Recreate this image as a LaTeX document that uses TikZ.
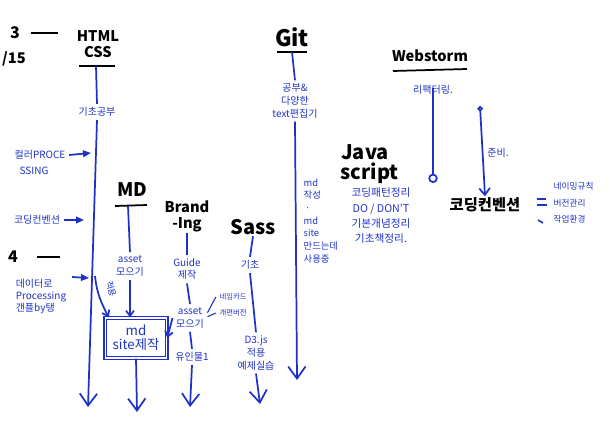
\documentclass[tikz,border=0pt]{standalone}
\usepackage{fontspec}
\setmainfont{Noto Sans CJK KR}
\usetikzlibrary{arrows.meta}
\definecolor{pen}{RGB}{30,50,200}

\tikzset{every picture/.style={line width=0.75pt}}
\tikzset{
  title/.style={inner sep=0.75pt, align=center, font=\fontsize{11}{12}\selectfont\bfseries},
  note/.style={inner sep=0.75pt, outer sep=2pt, align=center, text=pen, font=\fontsize{7.5}{9.5}\selectfont},
  tiny/.style={note, font=\fontsize{5.5}{7}\selectfont},
  ink/.style={draw=black, line width=1.3pt},
  pline/.style={draw=pen, line width=1.3pt},
  bigv/.style={-{Straight Barb[length=9pt,width=13pt]}},
  smallv/.style={-{Straight Barb[length=4pt,width=6pt]}},
  tip/.style={-{Triangle[length=6pt,width=5pt]}},
}

\begin{document}
\begin{tikzpicture}[x=0.75pt,y=0.75pt,yscale=-1,xscale=1]
\useasboundingbox (0,0) rectangle (610,421);

% Text Node
\node[title, font=\fontsize{12}{13}\selectfont\bfseries] (three) at (15,33) {3};
% Text Node
\node[title] (fifteen) at (14,59) {/15};
% Text Node
\node[title, font=\fontsize{12}{13}\selectfont\bfseries] (four) at (13,257) {4};
\coordinate (dash3) at (58,33);
\coordinate (dash4) at (60,257);
%Straight Lines
\draw[ink] ([xshift=7]three.east) -- (dash3);
\draw[ink] ([xshift=13]four.east) -- (dash4);

%HTML CSS
\node[title] (html) at (98,44) {HTML\\CSS};
\coordinate (htmlul0) at (79,66);
\coordinate (htmlul1) at (115,66);
\coordinate (htmlstem) at (96,66);
\draw[ink] (htmlul0) -- (htmlul1);
\node[note] (gicho) at (97,112) {기초공부};
\draw[pline] (htmlstem) -- (gicho.north);
\coordinate (htmlend) at (88,407);
\draw[pline, bigv] (gicho.south) -- (htmlend);

%left side
\node[note] (color) at (40,155) {컬러PROCE};
\node[note] (color2) at (34,171) {SSING};
\coordinate (hin1) at (91,153);
\draw[pline, tip] (color.east) -- (hin1);
\node[note] (conv1) at (37,220) {코딩컨벤션};
\coordinate (hin2) at (84,220);
\draw[pline, tip] (conv1.east) -- (hin2);
\node[note, align=left, font=\fontsize{7.5}{9}\selectfont] (data) at (41,297) {데이터로\\Processing\\갠플by탱};
\coordinate (data0) at (72,277);
\coordinate (hin3) at (89,278);
\draw[pline, tip] (data0) -- (hin3);

%MD
\node[title, font=\fontsize{14}{15}\selectfont\bfseries] (md) at (132,190) {MD};
\coordinate (mdul0) at (115,206);
\coordinate (mdul1) at (147,205);
\coordinate (mdstem) at (128,206);
\draw[ink] (mdul0) -- (mdul1);
\node[note] (asset1) at (130,266) {asset\\모으기};
\draw[pline] (mdstem) -- (asset1.north);
\node[draw=pen, double=white, double distance=1.2pt, line width=0.9pt, text=pen,
      minimum width=46pt, minimum height=30pt, inner sep=1pt, align=center,
      font=\fontsize{10}{10.5}\selectfont] (mdsite) at (136,338) {md\\site제작};
\draw[pline, smallv] (asset1.south) -- (mdsite.north -| asset1.south);
\coordinate (mdend) at (137,412);
\draw[pline, bigv] (mdsite.south) -- (mdend);

%apply curve
\coordinate (apply0) at (95,276);
\draw[pline, smallv] (apply0) .. controls (97,295) and (102,304) .. ([xshift=3]mdsite.north west);
\node[note, rotate=-75, font=\fontsize{6.5}{7}\selectfont] (apply) at (111,289) {적용};

%Brand-ing
\node[title] (brand) at (187,216) {Brand\\-Ing};
\node[note] (guide) at (187,269) {Guide\\제작};
\draw[pline] (brand.south) -- (guide.north);
\node[note] (asset2) at (190,318) {asset\\모으기};
\draw[pline] (guide.south) -- (asset2.north);
\node[note] (yuin) at (192,357) {유인물1};
\draw[pline] (asset2.south) -- (yuin.north);
\coordinate (brandend) at (190,407);
\draw[pline, bigv] (yuin.south) -- (brandend);
\draw[pline, smallv] (asset2.west) -- (mdsite.east);
\node[tiny] (namecard) at (233,297) {네임카드};
\node[tiny] (renew) at (233,313) {개편버전};
\draw[draw=pen, line width=0.8pt] ([yshift=-4]asset2.east) -- (namecard.west);
\draw[draw=pen, line width=0.8pt] ([yshift=-1]asset2.east) -- (renew.west);

%Sass
\node[title, font=\fontsize{15}{16}\selectfont\bfseries] (sass) at (253,227) {Sass};
\node[note] (sassgicho) at (250,265) {기초};
\draw[pline] (sass.south) -- (sassgicho.north);
\node[note] (dthree) at (256,353) {D3.js\\적용\\예제실습};
\draw[pline] (sassgicho.south) -- (dthree.north);
\coordinate (sassend) at (260,404);
\draw[pline, bigv] (dthree.south) -- (sassend);

%Git
\node[title, font=\fontsize{17}{18}\selectfont\bfseries] (git) at (292,37) {Git};
\coordinate (gitul0) at (277,52);
\coordinate (gitul1) at (307,52);
\coordinate (gitstem) at (292,52);
\draw[ink] (gitul0) -- (gitul1);
\node[note] (gitnote) at (295,101) {공부\&\\다양한\\text편집기};
\draw[pline] (gitstem) -- (gitnote.north);
\coordinate (gitend) at (297,380);
\draw[pline, bigv] (gitnote.south) -- (gitend);
\node[note, align=left, font=\fontsize{7}{9.5}\selectfont, anchor=north west] (gitside) at (300,175) {md\\작성\\\,·\\md\\site\\만드는데\\사용중};

%JavaScript
\node[title, font=\fontsize{15}{15}\selectfont\bfseries] (java) at (365,164) {Java\\\ \ script};
\node[note, font=\fontsize{8}{11.5}\selectfont] (jsnote) at (381,216) {코딩패턴정리\\DO / DON'T\\기본개념정리\\기초책정리.};

%Webstorm
\node[title] (web) at (430,56) {Webstorm};
\coordinate (webul0) at (393,71);
\coordinate (webul1) at (467,69);
\draw[ink] (webul0) -- (webul1);
\node[note] (refac) at (433,90) {리팩터링.};
\coordinate (refacend) at (433,183);
\draw[pline, -{Circle[open,length=7pt]}] ([yshift=-8]refac.south) -- (refacend);

\coordinate (prep0) at (480,106);
\node[title, font=\fontsize{11.5}{12}\selectfont\bfseries] (conv2) at (485,205) {코딩컨벤션};
\draw[pline, {Circle[open,length=4pt]}-{Straight Barb[length=5pt,width=8pt]}] (prep0) -- (conv2.north);
\node[note] (prep) at (498,153) {준비.};
\node[note, align=left, font=\fontsize{6.5}{12.2}\selectfont, anchor=west] (cnote) at (550,203) {네이밍규칙\\버전관리\\작업환경};
\coordinate (m1a) at (537,199);
\coordinate (m1b) at (546,199);
\coordinate (m2a) at (537,205);
\coordinate (m2b) at (547,205);
\coordinate (m3a) at (538,220);
\coordinate (m3b) at (543,223);
\draw[draw=pen, line width=0.9pt] (m1a) -- (m1b);
\draw[draw=pen, line width=0.9pt] (m2a) -- (m2b);
\draw[draw=pen, line width=1.2pt] (m3a) -- (m3b);

\end{tikzpicture}
\end{document}
